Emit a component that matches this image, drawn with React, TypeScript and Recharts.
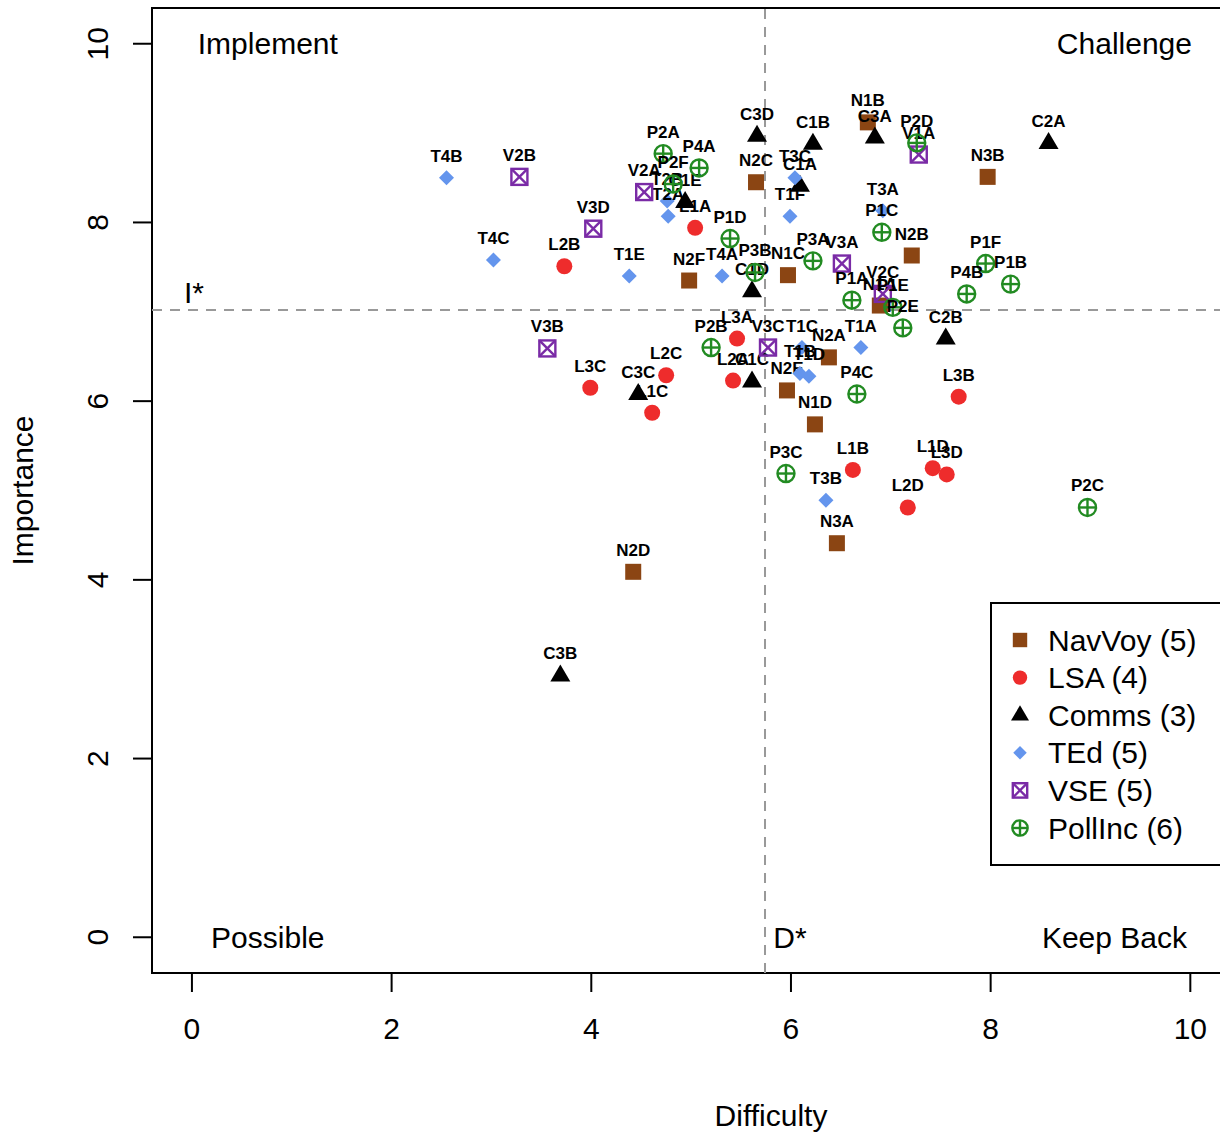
import {
  Legend,
  ReferenceArea,
  ReferenceDot,
  ReferenceLine,
  Scatter,
  ScatterChart,
  XAxis,
  YAxis,
} from "recharts";

const FONT = '"Liberation Sans", Arial, Helvetica, sans-serif';

// [label, difficulty, importance]
type Pt = [string, number, number];

const navVoy: Pt[] = [
  ["N1B", 6.77, 9.12],
  ["N3B", 7.97, 8.51],
  ["N2C", 5.65, 8.45],
  ["N2B", 7.21, 7.63],
  ["N1C", 5.97, 7.41],
  ["N2F", 4.98, 7.35],
  ["N1A", 6.89, 7.07],
  ["N2A", 6.38, 6.49],
  ["N2E", 5.96, 6.12],
  ["N1D", 6.24, 5.74],
  ["N3A", 6.46, 4.41],
  ["N2D", 4.42, 4.09],
];

const lsa: Pt[] = [
  ["L2B", 3.73, 7.51],
  ["L1A", 5.04, 7.94],
  ["L3A", 5.46, 6.7],
  ["L2C", 4.75, 6.29],
  ["L3C", 3.99, 6.15],
  ["L1C", 4.61, 5.87],
  ["L2A", 5.42, 6.23],
  ["L1B", 6.62, 5.23],
  ["L1D", 7.42, 5.25],
  ["L3D", 7.56, 5.18],
  ["L2D", 7.17, 4.81],
  ["L3B", 7.68, 6.05],
];

const comms: Pt[] = [
  ["C3D", 5.66, 8.97],
  ["C1B", 6.22, 8.88],
  ["C3A", 6.84, 8.95],
  ["C2A", 8.58, 8.89],
  ["C1A", 6.09, 8.41],
  ["C1E", 4.94, 8.23],
  ["C1D", 5.61, 7.23],
  ["C2B", 7.55, 6.7],
  ["C1C", 5.61, 6.22],
  ["C3C", 4.47, 6.08],
  ["C3B", 3.69, 2.93],
];

const tEd: Pt[] = [
  ["T4B", 2.55, 8.5],
  ["T4C", 3.02, 7.58],
  ["T1E", 4.38, 7.4],
  ["T2B", 4.76, 8.24],
  ["T2A", 4.77, 8.07],
  ["T4A", 5.31, 7.4],
  ["T3C", 6.04, 8.5],
  ["T1F", 5.99, 8.07],
  ["T3A", 6.92, 8.13],
  ["T1C", 6.11, 6.6],
  ["T1A", 6.7, 6.6],
  ["T1B", 6.09, 6.31],
  ["T1D", 6.18, 6.28],
  ["T3B", 6.35, 4.89],
];

const vse: Pt[] = [
  ["V2B", 3.28, 8.51],
  ["V2A", 4.53, 8.34],
  ["V3D", 4.02, 7.93],
  ["V1A", 7.28, 8.76],
  ["V3A", 6.51, 7.54],
  ["V2C", 6.92, 7.2],
  ["V3B", 3.56, 6.59],
  ["V3C", 5.77, 6.6],
];

const pollInc: Pt[] = [
  ["P2A", 4.72, 8.77],
  ["P4A", 5.08, 8.61],
  ["P2F", 4.82, 8.43],
  ["P1D", 5.39, 7.82],
  ["P3B", 5.64, 7.44],
  ["P2D", 7.26, 8.89],
  ["P1C", 6.91, 7.89],
  ["P3A", 6.22, 7.57],
  ["P1F", 7.95, 7.54],
  ["P1B", 8.2, 7.31],
  ["P4B", 7.76, 7.2],
  ["P1A", 6.61, 7.13],
  ["P1E", 7.02, 7.05],
  ["P2E", 7.12, 6.82],
  ["P2B", 5.2, 6.6],
  ["P4C", 6.66, 6.08],
  ["P3C", 5.95, 5.19],
  ["P2C", 8.97, 4.81],
];

const xTicks = [0, 2, 4, 6, 8, 10];
const yTicks = [0, 2, 4, 6, 8, 10];
const dStar = 5.74;
const iStar = 7.02;

const notes: Pt[] = [
  ["Implement", 0.76, 10],
  ["Challenge", 9.34, 10],
  ["Possible", 0.76, 0],
  ["Keep Back", 9.24, 0],
  ["I*", 0.02, 7.22],
  ["D*", 5.99, 0],
];

type Kind = "square" | "circle" | "triangle" | "diamond" | "boxx" | "circplus";

const groups: { name: string; kind: Kind; color: string; points: Pt[] }[] = [
  { name: "NavVoy (5)", kind: "square", color: "#8B4513", points: navVoy },
  { name: "LSA (4)", kind: "circle", color: "#EE2C2C", points: lsa },
  { name: "Comms (3)", kind: "triangle", color: "#000000", points: comms },
  { name: "TEd (5)", kind: "diamond", color: "#6495ED", points: tEd },
  { name: "VSE (5)", kind: "boxx", color: "#7A2BA6", points: vse },
  { name: "PollInc (6)", kind: "circplus", color: "#228B22", points: pollInc },
];

function Marker({ kind, color, cx, cy, s = 1 }: { kind: Kind; color: string; cx: number; cy: number; s?: number }) {
  switch (kind) {
    case "square":
      return <rect x={cx - 8 * s} y={cy - 8 * s} width={16 * s} height={16 * s} fill={color} />;
    case "circle":
      return <circle cx={cx} cy={cy} r={8 * s} fill={color} />;
    case "triangle":
      return (
        <polygon
          points={`${cx},${cy - 11 * s} ${cx - 10 * s},${cy + 6 * s} ${cx + 10 * s},${cy + 6 * s}`}
          fill={color}
        />
      );
    case "diamond":
      return (
        <polygon
          points={`${cx},${cy - 7.5 * s} ${cx + 7.5 * s},${cy} ${cx},${cy + 7.5 * s} ${cx - 7.5 * s},${cy}`}
          fill={color}
        />
      );
    case "boxx": {
      const h = 8 * s;
      return (
        <g stroke={color} strokeWidth={2.4} fill="none">
          <rect x={cx - h} y={cy - h} width={2 * h} height={2 * h} />
          <line x1={cx - h} y1={cy - h} x2={cx + h} y2={cy + h} />
          <line x1={cx - h} y1={cy + h} x2={cx + h} y2={cy - h} />
        </g>
      );
    }
    case "circplus": {
      const r = 8.5 * s;
      return (
        <g stroke={color} strokeWidth={2.4} fill="none">
          <circle cx={cx} cy={cy} r={r} />
          <line x1={cx - r} y1={cy} x2={cx + r} y2={cy} />
          <line x1={cx} y1={cy - r} x2={cx} y2={cy + r} />
        </g>
      );
    }
  }
}

function makeShape(kind: Kind, color: string) {
  return (props: any) => {
    const { cx, cy, payload } = props;
    return (
      <g>
        <Marker kind={kind} color={color} cx={cx} cy={cy} />
        <text
          x={cx}
          y={cy - 16}
          textAnchor="middle"
          fontFamily={FONT}
          fontWeight="bold"
          fontSize={17}
          fill="#000"
        >
          {payload.label}
        </text>
      </g>
    );
  };
}

function XTick({ x, y, payload }: any) {
  return (
    <text x={x} y={y + 45} textAnchor="middle" fontFamily={FONT} fontSize={30} fill="#000">
      {payload.value}
    </text>
  );
}

function YTick({ x, y, payload }: any) {
  const bx = x - 23;
  return (
    <text
      x={bx}
      y={y}
      transform={`rotate(-90 ${bx} ${y})`}
      textAnchor="middle"
      fontFamily={FONT}
      fontSize={30}
      fill="#000"
    >
      {payload.value}
    </text>
  );
}

function LegendBox() {
  const rowH = 37.6;
  return (
    <svg width={260} height={264} style={{ display: "block" }}>
      <rect x={1} y={1} width={258} height={262} fill="#fff" stroke="#000" strokeWidth={2} />
      {groups.map((g, i) => {
        const cy = 38 + i * rowH;
        return (
          <g key={g.name}>
            <Marker kind={g.kind} color={g.color} cx={30} cy={cy} s={0.9} />
            <text x={58} y={cy + 10.5} fontFamily={FONT} fontSize={30} fill="#000">
              {g.name}
            </text>
          </g>
        );
      })}
    </svg>
  );
}

export default function App() {
  return (
    <div
      style={{
        position: "absolute",
        left: 0,
        top: 0,
        width: 1220,
        height: 1134,
        overflow: "hidden",
        background: "#fff",
        fontFamily: FONT,
      }}
    >
      <ScatterChart width={1390} height={1134} margin={{ top: 8, right: 0, bottom: 0, left: 0 }}>
        <XAxis
          dataKey="x"
          type="number"
          domain={[-0.4, 12]}
          ticks={xTicks}
          interval={0}
          allowDataOverflow
          axisLine={false}
          tickLine={{ stroke: "#000", strokeWidth: 2 }}
          tickSize={19}
          height={161}
          tick={<XTick />}
          label={({ viewBox }: any) => (
            <text
              x={viewBox.x + viewBox.width / 2}
              y={1126}
              textAnchor="middle"
              fontFamily={FONT}
              fontSize={30}
              fill="#000"
            >
              Difficulty
            </text>
          )}
        />
        <YAxis
          dataKey="y"
          type="number"
          domain={[-0.4, 10.4]}
          ticks={yTicks}
          interval={0}
          allowDataOverflow
          axisLine={false}
          tickLine={{ stroke: "#000", strokeWidth: 2 }}
          tickSize={19}
          width={152}
          tick={<YTick />}
          label={({ viewBox }: any) => {
            const cy = viewBox.y + viewBox.height / 2;
            return (
              <text
                x={33}
                y={cy}
                transform={`rotate(-90 33 ${cy})`}
                textAnchor="middle"
                fontFamily={FONT}
                fontSize={30}
                fill="#000"
              >
                Importance
              </text>
            );
          }}
        />
        <ReferenceArea
          x1={-0.4}
          x2={12}
          y1={-0.4}
          y2={10.4}
          fill="none"
          stroke="#000"
          strokeWidth={2}
          ifOverflow="visible"
        />
        <ReferenceLine x={dStar} stroke="#999" strokeWidth={2} strokeDasharray="10 8" />
        <ReferenceLine y={iStar} stroke="#999" strokeWidth={2} strokeDasharray="10 8" />
        {notes.map(([text, x, y]) => (
          <ReferenceDot
            key={text}
            x={x}
            y={y}
            r={0}
            fill="none"
            stroke="none"
            ifOverflow="visible"
            label={{ value: text, position: "center", fontSize: 30, fill: "#000", fontFamily: FONT }}
          />
        ))}
        {groups.map((g) => (
          <Scatter
            key={g.name}
            name={g.name}
            data={g.points.map(([label, x, y]) => ({ label, x, y }))}
            shape={makeShape(g.kind, g.color)}
            isAnimationActive={false}
          />
        ))}
        <Legend
          layout="horizontal"
          verticalAlign="middle"
          align="center"
          wrapperStyle={{ left: 990, top: 602, width: 260, height: 264 }}
          content={() => <LegendBox />}
        />
      </ScatterChart>
    </div>
  );
}
